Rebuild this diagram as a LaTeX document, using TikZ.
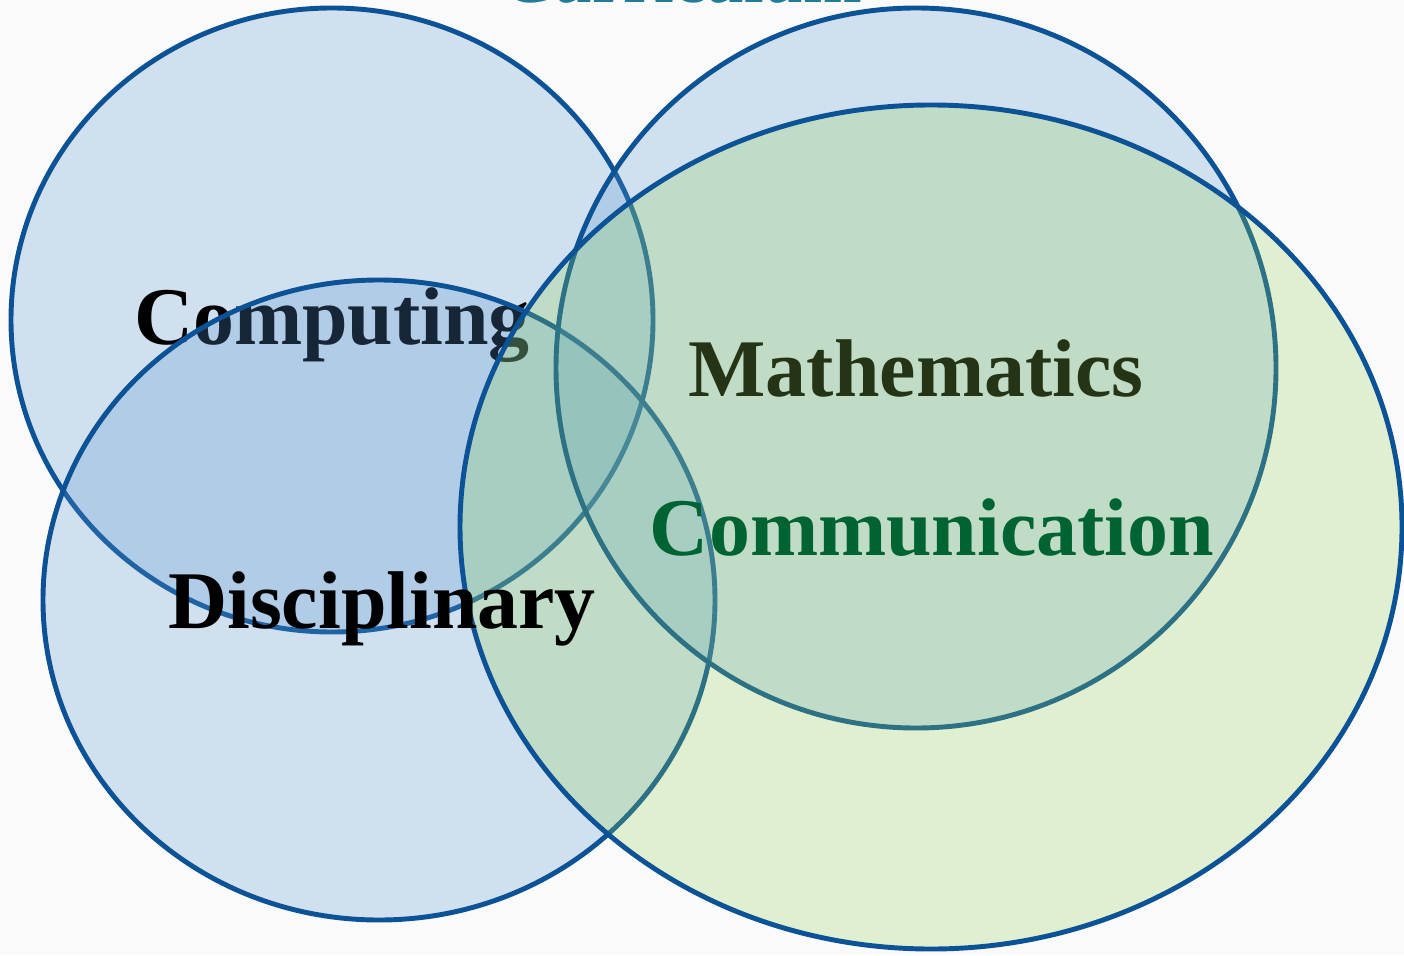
\documentclass[tikz,border=0pt]{standalone}
\usepackage{fontspec}
\setmainfont{Liberation Serif}
\usepackage{tikz}

\definecolor{vennline}{RGB}{12,82,150}
\definecolor{vennblue}{RGB}{88,150,211}
\definecolor{venngreen}{RGB}{146,210,82}
\definecolor{commtext}{RGB}{0,100,50}
\definecolor{titletext}{RGB}{31,125,154}

\begin{document}
\begin{tikzpicture}[
	setblue/.style={draw=vennline, line width=1.4pt, fill=vennblue, fill opacity=0.26},
	setgreen/.style={draw=vennline, line width=1.4pt, fill=venngreen, fill opacity=0.25},
	setlabel/.style={inner sep=0pt, anchor=base, font=\fontsize{23.3}{28}\selectfont\bfseries}]
	\useasboundingbox (0,0) rectangle (14.04,9.55);
	\clip (0,0) rectangle (14.04,9.55);
	\fill[black!2] (0,0) rectangle (14.04,9.55);
	
	\node[setlabel, text=titletext, font=\fontsize{20}{24}\selectfont\bfseries] (curriculum) at (6.82,9.52) {Curriculum};
	
	\draw[setblue] (3.32,6.35) ellipse (3.21 and 3.12);
	\node[setlabel] (computing) at (3.32,6.10) {Computing};
	\draw[setblue] (3.79,3.55) ellipse (3.36 and 3.20);
	\draw[setblue] (9.16,5.87) ellipse (3.60 and 3.60);
	\node[setlabel] (mathematics) at (9.16,5.59) {Mathematics};
	\draw[setgreen] (9.31,4.28) ellipse (4.71 and 4.22);
	
	\node[setlabel] (disciplinary) at (3.82,3.27) {Disciplinary};
	\node[setlabel, text=commtext] (communication) at (9.32,4.00) {Communication};
\end{tikzpicture}
\end{document}
